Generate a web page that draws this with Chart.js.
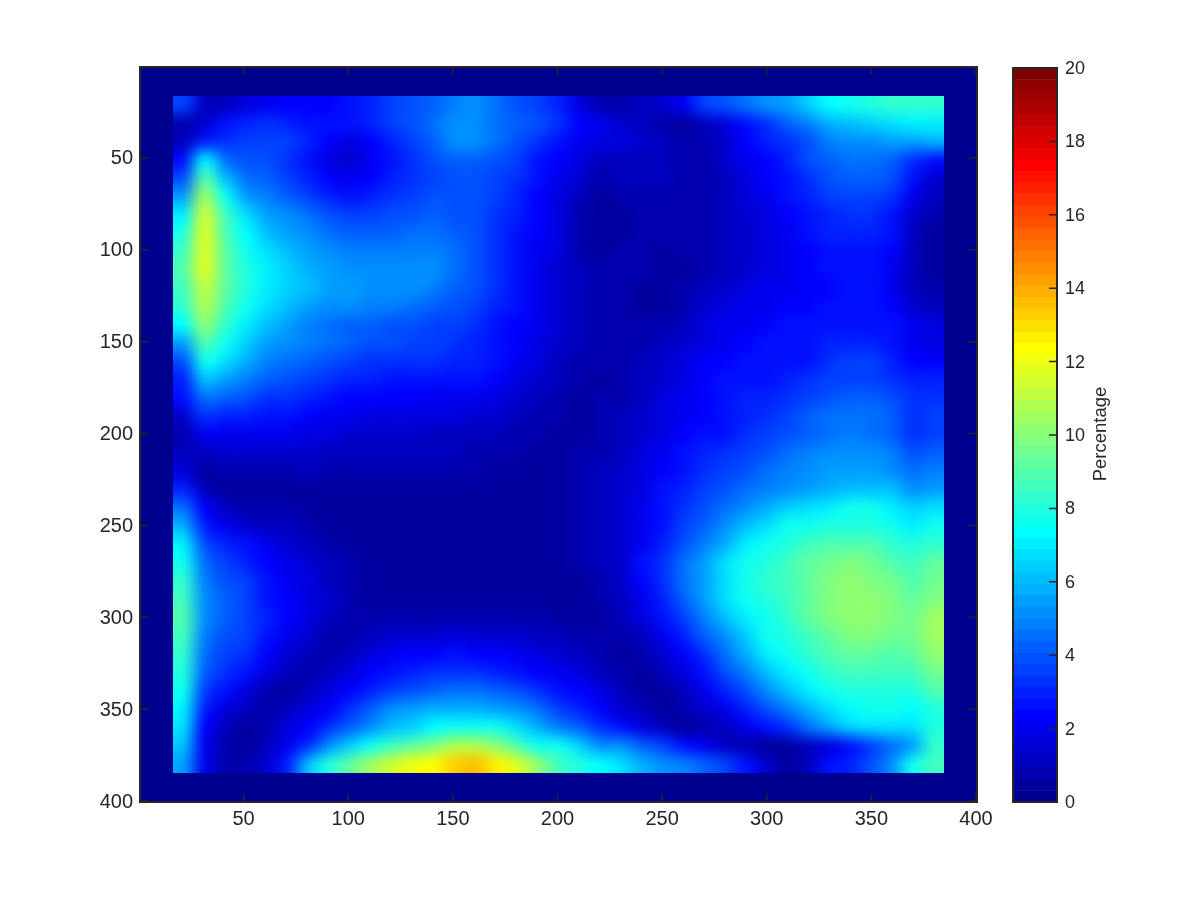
<!DOCTYPE html>
<html>
<head>
<meta charset="utf-8">
<script src="https://cdn.jsdelivr.net/npm/chart.js@4"></script>
<style>
html,body{margin:0;padding:0;background:#fff}
#wrap{position:relative;width:1200px;height:900px}
#wrap canvas{position:absolute;left:0;top:0}
</style>
</head>
<body>
<div id="wrap"><canvas id="main" width="1200" height="900"></canvas><canvas id="bar" width="1200" height="900"></canvas></div>
<script>
const xTicks=[50,100,150,200,250,300,350,400];
const yTicks=[50,100,150,200,250,300,350,400];
const barTicks=[0,2,4,6,8,10,12,14,16,18,20];
const barTitle='Percentage';
// one row per 10 or so image rows, top to bottom
const cellValues=[
[3.5,1.0,1.2,1.7,2.0,2.2,2.2,2.4,2.5,3.0,3.5,3.8,4.3,4.8,5.0,4.5,4.0,3.6,3.0,1.6,0.9,0.7,1.0,1.5,2.0,3.5,4.0,4.5,5.0,5.5,6.3,7.2,7.8,8.0,8.2,8.3,8.3],
[.8,1.5,2.5,3,3.2,3,2.8,2.6,2.6,3,3.5,4,4.5,5.2,5.3,4.6,4.2,3.8,3.2,2.3,2,1.5,1.2,.8,.6,1,1.8,2.8,3.4,4.1,4.9,5.8,6.2,6.5,6.7,6.9,7],
[1,3,3.2,3.5,3.7,3.6,3,2.2,1.8,2.2,3,3.6,4.2,5,5,4.4,4,3.3,2.7,2,1.8,1.6,1.4,1.1,.7,.7,1.5,2.4,3,3.4,4,4.8,5.1,5.3,5.5,5.6,5.8],
[2.5,7,4.5,3.8,3.8,3.4,2.7,1.8,1.4,1.9,2.7,3.3,3.8,4.2,4.2,3.9,3.6,2.8,2.2,1.6,1.2,1.2,1.2,1.1,.7,.7,1.3,1.9,2.4,3,3.8,4.3,4.5,4.5,4.3,3.2,2.5],
[4,9,6,4.6,4.2,3.7,3,2.2,1.9,2.3,2.9,3.4,3.7,3.9,4,3.6,3.2,2.5,2,1.3,.9,1,1.1,1,.7,.7,1.2,1.8,2.3,2.8,3.4,3.9,4.1,4.1,3.8,2.6,1.5],
[5.5,10.5,7.5,5.6,4.8,4.2,3.6,3,2.7,2.9,3.3,3.6,3.8,3.9,3.9,3.5,3,2.3,1.8,1,.6,.7,.9,.9,.7,.7,1.1,1.6,2,2.5,3.1,3.5,3.7,3.7,3.2,2,1],
[7,11.3,8.5,6.6,5.6,5,4.4,3.8,3.5,3.6,3.8,4,4.1,4,3.8,3.4,2.9,2.2,1.7,.9,.5,.6,.8,.8,.7,.7,1,1.4,1.8,2.2,2.7,3.1,3.3,3.3,2.8,1.5,.7],
[8,11.7,9,7.2,6.2,5.5,5,4.5,4.2,4.1,4.2,4.4,4.5,4.2,3.8,3.4,2.8,2.2,1.6,.9,.5,.6,.7,.7,.7,.7,1,1.4,1.7,2.1,2.5,2.9,3,3,2.5,1.2,.6],
[8.6,11.8,9.3,7.7,6.7,6,5.5,5,4.8,4.7,4.7,4.8,4.9,4.4,3.8,3.3,2.7,2.1,1.6,.9,.6,.7,.7,.6,.7,.8,1,1.4,1.7,2,2.4,2.6,2.7,2.7,2.2,1.1,.6],
[8.8,11.6,9.3,8,7,6.3,5.8,5.4,5.2,5.1,5,5.1,5.2,4.6,3.9,3.3,2.7,2.1,1.5,1,.7,.8,.7,.5,.6,.9,1.1,1.5,1.8,2,2.3,2.5,2.5,2.5,2,1,.6],
[8.6,11.2,9.2,8,7.1,6.4,6,5.6,5.4,5.2,5.1,5.1,4.8,4.3,3.8,3.2,2.6,2,1.5,1.1,.8,.8,.6,.5,.7,1,1.4,1.7,1.9,2.1,2.3,2.4,2.5,2.5,2.1,1.1,.7],
[8.2,10.8,8.8,7.6,6.7,6.1,5.6,5.2,5,4.9,4.7,4.5,4.3,3.9,3.5,3,2.5,2,1.5,1.1,.9,.8,.6,.6,.9,1.3,1.6,1.9,2.1,2.3,2.4,2.5,2.6,2.6,2.3,1.4,1],
[7.2,10,8.3,6.9,6,5.4,4.9,4.5,4.3,4.1,4,3.8,3.7,3.5,3.2,2.8,2.4,1.9,1.5,1.1,.9,.8,.7,.8,1.2,1.6,1.9,2.1,2.3,2.5,2.6,2.7,2.8,2.8,2.6,2,1.6],
[5.5,8.8,7.6,6.3,5.4,5,4.7,4.4,4.1,3.9,3.8,3.7,3.6,3.4,3.1,2.7,2.2,1.8,1.4,1,.8,.7,.8,1.1,1.5,1.8,2.1,2.4,2.5,2.6,2.7,2.9,3,3,2.7,2,1.7],
[4,7.5,6.8,5.7,4.9,4.6,4.3,3.8,3.5,3.4,3.3,3.2,3.2,3.1,3,2.7,2,1.6,1.2,.9,.7,.7,1,1.3,1.8,2.2,2.3,2.5,2.5,2.6,2.8,3.2,3.5,3.5,3,2.4,2.3],
[3,6,5.6,4.8,4.2,3.9,3.6,3.2,3,2.9,2.8,2.7,2.7,2.6,2.5,2.3,1.7,1.3,1,.7,.6,.8,1.1,1.4,1.8,2.2,2.5,2.7,2.8,3,3.3,3.5,3.7,3.7,3.3,3,3],
[2.5,4.5,4.2,3.9,3.4,3.2,3,2.6,2.4,2.3,2.3,2.2,2.1,2.1,2,1.8,1.3,1,.8,.6,.7,.9,1.2,1.6,2,2.3,2.6,2.9,3.1,3.4,3.7,4,4.2,4.1,3.8,3.2,3.3],
[1.5,3.2,3,2.9,2.7,2.5,2.3,2,1.9,1.8,1.8,1.7,1.6,1.6,1.5,1.3,1.1,.9,.7,.6,.8,1.1,1.4,1.7,2.1,2.4,2.8,3.1,3.4,3.7,4.1,4.4,4.5,4.4,4.1,3.3,3.5],
[.8,2,2,2.1,2,1.9,1.8,1.6,1.5,1.4,1.4,1.3,1.2,1.2,1.1,1,.9,.7,.6,.6,.9,1.2,1.5,1.8,2.2,2.5,2.8,3.2,3.5,3.9,4.2,4.5,4.7,4.6,4.2,3.3,3.6],
[1,1,1.3,1.5,1.5,1.4,1.4,1.2,1.1,1.1,1.1,1,1,1,.9,.8,.7,.6,.5,.7,.9,1.2,1.6,2,2.5,2.9,3.2,3.6,4,4.4,4.7,5,5.2,5.1,4.8,3.8,4.2],
[1.6,.5,.8,.8,.9,.9,1,.9,.8,.8,.8,.7,.7,.7,.7,.6,.6,.6,.5,.8,1,1.3,1.7,2.2,2.8,3.2,3.6,4,4.4,4.7,5,5.4,5.6,5.6,5.3,4.5,4.9],
[3,1.2,.5,.5,.5,.5,.5,.5,.5,.5,.5,.5,.5,.6,.5,.5,.5,.6,.6,.9,1,1.3,1.8,2.5,3,3.6,4,4.5,4.8,5.1,5.4,5.8,6.2,6.2,6,5.2,5.6],
[4.4,2.2,1.2,.8,.8,.7,.6,.5,.4,.4,.4,.4,.4,.4,.4,.4,.4,.5,.6,.9,1.1,1.4,1.9,2.6,3.2,3.9,4.5,5.2,5.8,6.3,6.7,7.1,7.5,7.5,7,6.3,6.6],
[5.8,3,2,1.5,1.2,1,.8,.6,.5,.4,.4,.4,.4,.4,.4,.4,.4,.4,.5,.8,1,1.4,2,2.7,3.5,4.3,5.1,6,6.8,7.6,7.8,8,8.1,8,7.6,7,7.6],
[7,3.8,2.9,2.5,1.9,1.4,1.1,.8,.6,.5,.4,.4,.4,.4,.4,.4,.4,.4,.5,.7,1,1.4,2.1,3,3.9,4.9,5.9,6.9,7.6,8,8.5,8.9,9,8.9,8.4,8,8.4],
[7.8,4.5,3.5,3.1,2.4,1.9,1.4,1,.7,.5,.4,.4,.4,.4,.4,.4,.4,.4,.5,.7,1,1.5,2.5,3.3,4.5,5.6,6.6,7.6,8.1,8.5,9.1,9.5,9.7,9.6,9,8.7,9.2],
[8.2,4.8,3.9,3.5,2.7,2.1,1.6,1.2,.8,.6,.4,.4,.4,.4,.5,.5,.5,.5,.5,.6,.9,1.3,2.2,3.2,4.4,5.6,6.7,7.7,8.3,8.7,9.3,9.7,10,9.9,9.4,9,9.6],
[8.6,5,4.1,3.6,2.8,2.3,1.8,1.3,.9,.6,.5,.5,.6,.6,.6,.6,.6,.6,.5,.6,.7,1.2,2.1,3.1,4.2,5.4,6.6,7.5,8.1,8.6,9.3,9.9,10.3,10.2,9.8,9.3,9.9],
[8.8,5,4.1,3.6,2.9,2.3,1.8,1.2,.8,.7,.7,.8,.9,.9,.9,.9,.8,.7,.6,.6,.6,1,1.7,2.6,3.7,4.8,6,7.1,7.8,8.4,9.1,9.7,10.1,10.1,9.8,9.6,10.4],
[8.6,4.9,4,3.5,2.7,2.1,1.5,.9,.8,1.1,1.3,1.3,1.5,1.6,1.5,1.4,1.3,1.2,1,.8,.7,.7,1.2,2,3,4.1,5.3,6.5,7.5,8,8.6,9.2,9.7,9.7,9.4,9.5,10.5],
[8.4,4.6,3.7,3.2,2.3,1.5,1,.7,1.1,1.6,2,2.2,2.4,2.5,2.4,2.2,2,1.7,1.4,1.1,.9,.5,.8,1.5,2.4,3.4,4.5,5.8,7,7.7,8.2,8.8,9.2,9.2,9,9.2,10.2],
[8,4.2,3.2,2.6,1.7,1,.7,1,1.6,2.3,2.7,3,3.2,3.3,3.2,3,2.8,2.4,2,1.6,1.2,.7,.5,1,1.8,2.7,3.8,4.9,6.1,7.1,7.7,8.2,8.7,8.7,8.5,8.7,9.6],
[7.6,3.6,2.6,1.7,.9,.6,1,1.6,2.4,3,3.6,4,4.3,4.5,4.4,4.2,3.8,3.2,2.7,2.2,1.6,1,.6,.6,1.2,2,3,4,5,6,7,7.7,8,8.1,8,8,8.9],
[7,3,1.8,1,.7,1,1.6,2.4,3.4,4.2,5,5.6,5.8,5.9,5.8,5.6,5.2,4.4,3.6,3,2.3,1.5,1,.5,.7,1.3,2.1,3,3.9,4.8,5.8,6.6,7.4,7.6,7.5,7.4,8],
[6.6,2.4,1.1,.6,.9,1.6,2.3,3.3,4.3,5.2,6,6.5,7.2,7.7,7.7,7.5,6.8,5.8,4.8,4.1,3.2,2.5,1.7,1,.5,.7,1.2,1.9,2.6,3.4,4.5,5.5,6.3,6.6,6.7,6.6,8],
[6,2,.8,.5,1,1.9,3.4,5,6.5,7.7,8.5,9.3,9.8,10.8,10.8,10.3,9,7.8,7.5,6.5,5.2,5,4.3,3.6,2.6,2,1,.7,.5,.6,1.2,1.8,2.8,3.6,4.4,5.5,8.2],
[5.5,2,.8,.7,1.3,3,6,8,9.2,10.5,11.3,12,12.4,13.2,13.6,12.8,11.6,10,8.7,8,7.3,6.7,5.8,5.2,4.7,4.2,3.5,2.6,1.5,.5,1.2,2.5,3,4,5,7.5,8.7]
];

const gridFrom=16.3,gridTo=384.7;   // the frame outside is all zero
const cMax=20;
const inkColor='#262626';

function jet(i){let t=(i+1)/64;
	let c=function(a){return Math.round(255*Math.max(0,Math.min(1,1.5-Math.abs(4*t-a))))};
	return [c(3),c(2),c(1)];}
function levelOf(v){return Math.max(0,Math.min(63,Math.floor(v/cMax*64)));}
function css(rgb){return 'rgb('+rgb[0]+','+rgb[1]+','+rgb[2]+')';}

let nRows=cellValues.length,nCols=cellValues[0].length;
let cells=[];
for(let r=0;r<nRows;r++){for(let c=0;c<nCols;c++){
	cells.push({x:gridFrom+(c+0.5)*(gridTo-gridFrom)/nCols,y:gridFrom+(r+0.5)*(gridTo-gridFrom)/nRows,v:cellValues[r][c]});
}}

// paints the cells into one small bitmap and stretches it over the scales, like an image plot
const imagePlugin={id:'imagePlugin',beforeDatasetsDraw:function(chart){
	let ctx=chart.ctx,xs=chart.scales.x,ys=chart.scales.y,a=chart.chartArea;
	ctx.save();ctx.fillStyle=css(jet(0));ctx.fillRect(a.left,a.top,a.width,a.height);
	let off=document.createElement('canvas');off.width=nCols;off.height=nRows;
	let oc=off.getContext('2d');let img=oc.createImageData(nCols,nRows);
	chart.data.datasets[0].data.forEach(function(p,i){let rgb=jet(levelOf(p.v));
		img.data[i*4]=rgb[0];img.data[i*4+1]=rgb[1];img.data[i*4+2]=rgb[2];img.data[i*4+3]=255;});
	oc.putImageData(img,0,0);
	let x0=xs.getPixelForValue(gridFrom),x1=xs.getPixelForValue(gridTo),y0=ys.getPixelForValue(gridFrom),y1=ys.getPixelForValue(gridTo);
	ctx.imageSmoothingEnabled=true;ctx.imageSmoothingQuality='high';
	ctx.drawImage(off,x0,y0,x1-x0,y1-y0);
	ctx.restore();
}};
const boxPlugin={id:'boxPlugin',afterDraw:function(chart,args,opts){
	let ctx=chart.ctx,a=chart.chartArea;
	ctx.save();ctx.strokeStyle=inkColor;ctx.lineWidth=1.5;ctx.beginPath();
	if(chart.scales.x.options.display){chart.scales.x.ticks.forEach(function(t){let p=chart.scales.x.getPixelForValue(t.value);
		ctx.moveTo(p,a.bottom);ctx.lineTo(p,a.bottom-8);ctx.moveTo(p,a.top);ctx.lineTo(p,a.top+8);});}
	chart.scales.y.ticks.forEach(function(t){let p=chart.scales.y.getPixelForValue(t.value);
		ctx.moveTo(a.right,p);ctx.lineTo(a.right-8,p);
		if(opts.both){ctx.moveTo(a.left,p);ctx.lineTo(a.left+8,p);}});
	ctx.stroke();
	ctx.lineWidth=2;ctx.strokeRect(a.left,a.top,a.width,a.height);
	ctx.restore();
}};
const barTitlePlugin={id:'barTitlePlugin',afterDraw:function(chart){
	let ctx=chart.ctx,a=chart.chartArea;
	ctx.save();ctx.translate(a.right+44,(a.top+a.bottom)/2-1);ctx.rotate(-Math.PI/2);
	ctx.font='18.5px "Liberation Sans"';ctx.fillStyle=inkColor;ctx.textAlign='center';ctx.textBaseline='middle';
	ctx.fillText(barTitle,0,0);ctx.restore();
}};

new Chart(document.getElementById('main'),{
	type:'scatter',
	data:{datasets:[{data:cells,pointRadius:0,pointHoverRadius:0}]},
	options:{responsive:false,animation:false,
		layout:{padding:{left:0,top:67,right:223,bottom:0}},
		plugins:{legend:{display:false},tooltip:{enabled:false},boxPlugin:{both:true}},
		scales:{
			x:{type:'linear',min:0.5,max:400.5,grid:{display:false,drawTicks:false},border:{display:false},
				afterBuildTicks:function(s){s.ticks=xTicks.map(function(v){return {value:v}})},
				afterFit:function(s){s.height=98},
				ticks:{color:inkColor,padding:5,maxRotation:0,autoSkip:false,font:{family:'"Liberation Sans"',size:20}}},
			y:{type:'linear',reverse:true,min:0.5,max:400.5,grid:{display:false,drawTicks:false},border:{display:false},
				afterBuildTicks:function(s){s.ticks=yTicks.map(function(v){return {value:v}})},
				afterFit:function(s){s.width=140},
				ticks:{color:inkColor,padding:7,labelOffset:1,autoSkip:false,font:{family:'"Liberation Sans"',size:20}}}
		}
	},
	plugins:[imagePlugin,boxPlugin]
});

// colour bar, one floating bar per colormap level, all on the same slot
let levelSets=[];
for(let i=0;i<64;i++){levelSets.push({data:[[i*cMax/64,(i+1)*cMax/64]],backgroundColor:css(jet(i)),grouped:false,barPercentage:1,categoryPercentage:1,borderWidth:0});}
new Chart(document.getElementById('bar'),{
	type:'bar',
	data:{labels:[barTitle],datasets:levelSets},
	options:{responsive:false,animation:false,
		layout:{padding:{left:1013,top:68,right:0,bottom:0}},
		plugins:{legend:{display:false},tooltip:{enabled:false},boxPlugin:{both:false}},
		scales:{
			x:{display:false,afterFit:function(s){s.height=98}},
			y:{position:'right',min:0,max:cMax,grid:{display:false,drawTicks:false},border:{display:false},
				afterBuildTicks:function(s){s.ticks=barTicks.map(function(v){return {value:v}})},
				afterFit:function(s){s.width=143},
				ticks:{color:inkColor,padding:8,labelOffset:1,autoSkip:false,font:{family:'"Liberation Sans"',size:18}}}
		}
	},
	plugins:[boxPlugin,barTitlePlugin]
});
</script>
</body>
</html>
